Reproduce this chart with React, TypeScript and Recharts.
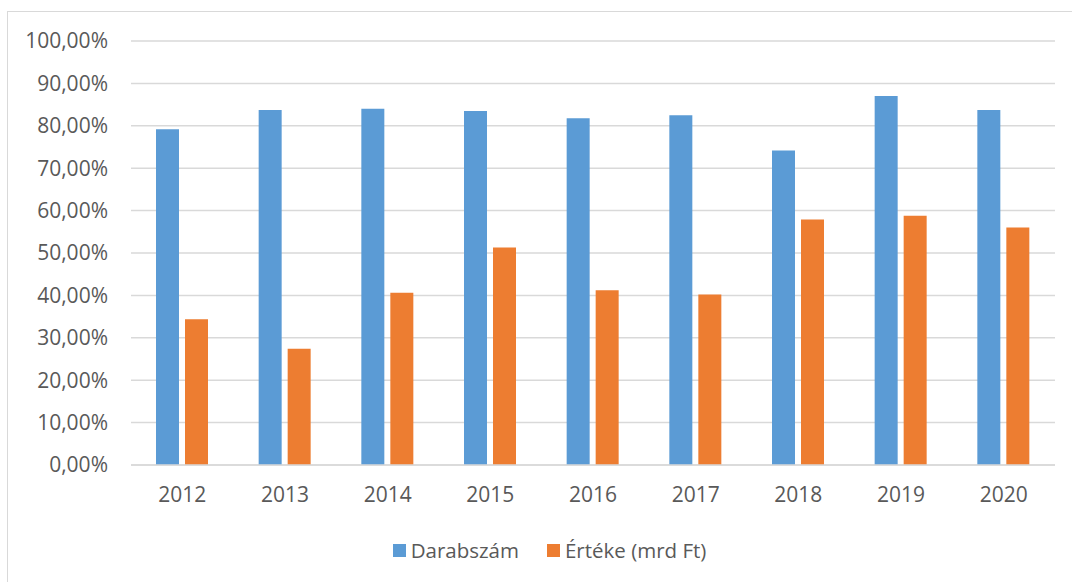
import React from 'react';
import { BarChart, Bar, XAxis, YAxis, CartesianGrid } from 'recharts';

const years = ['2012', '2013', '2014', '2015', '2016', '2017', '2018', '2019', '2020'];
const darabszam = [79.2, 83.7, 84.0, 83.5, 81.8, 82.5, 74.2, 87.0, 83.7];
const erteke = [34.4, 27.4, 40.6, 51.3, 41.2, 40.2, 57.9, 58.8, 56.0];
const yTicks = [0, 10, 20, 30, 40, 50, 60, 70, 80, 90, 100];

const series = [
  { key: 'darabszam', name: 'Darabszám', color: '#5b9bd5' },
  { key: 'erteke', name: 'Értéke (mrd Ft)', color: '#ed7d31' },
];

const data = years.map((year, i) => ({
  year,
  darabszam: darabszam[i],
  erteke: erteke[i],
}));

const font = '"Open Sans", "Liberation Sans", sans-serif';
const textColor = '#595959';
const gridColor = '#d9d9d9';

const fmtPct = (v: number) => `${v.toFixed(2).replace('.', ',')}%`;

export default function App() {
  return (
    <div
      style={{
        position: 'fixed',
        left: 0,
        top: 0,
        width: 1072,
        height: 582,
        background: '#fff',
        overflow: 'hidden',
        fontFamily: font,
      }}
    >
      {/* chart frame, runs off the right and bottom edge */}
      <div
        style={{
          position: 'absolute',
          left: 7,
          top: 11,
          width: 1100,
          height: 620,
          border: `1px solid ${gridColor}`,
        }}
      />
      <div style={{ position: 'absolute', left: 0, top: 0 }}>
        <BarChart
          width={1072}
          height={582}
          data={data}
          margin={{ top: 41, right: 17, left: 0, bottom: 77 }}
          barSize={23}
          barGap={6}
        >
          <CartesianGrid vertical={false} stroke={gridColor} strokeWidth={1.5} />
          <XAxis
            dataKey="year"
            height={40}
            tickLine={false}
            axisLine={{ stroke: gridColor, strokeWidth: 1.5 }}
            tickMargin={16}
            tick={{ fill: textColor, fontSize: 21, fontFamily: font }}
          />
          <YAxis
            width={131}
            domain={[0, 100]}
            ticks={yTicks}
            interval={0}
            tickFormatter={fmtPct}
            axisLine={false}
            tickLine={false}
            tickMargin={17}
            tick={{ fill: textColor, fontSize: 21, fontFamily: font }}
          />
          {series.map((s) => (
            <Bar
              key={s.key}
              dataKey={s.key}
              name={s.name}
              fill={s.color}
              isAnimationActive={false}
            />
          ))}
        </BarChart>
      </div>
      {/* legend */}
      <div
        style={{
          position: 'absolute',
          left: 0,
          top: 536,
          width: 1072,
          display: 'flex',
          justifyContent: 'center',
          alignItems: 'center',
          paddingLeft: 27,
          boxSizing: 'border-box',
          color: textColor,
          fontSize: 20.5,
          lineHeight: '28px',
        }}
      >
        {series.map((s, i) => (
          <div
            key={s.key}
            style={{ display: 'flex', alignItems: 'center', marginLeft: i === 0 ? 0 : 28 }}
          >
            <span
              style={{ display: 'inline-block', width: 13, height: 13, background: s.color, marginRight: 5 }}
            />
            <span>{s.name}</span>
          </div>
        ))}
      </div>
    </div>
  );
}
